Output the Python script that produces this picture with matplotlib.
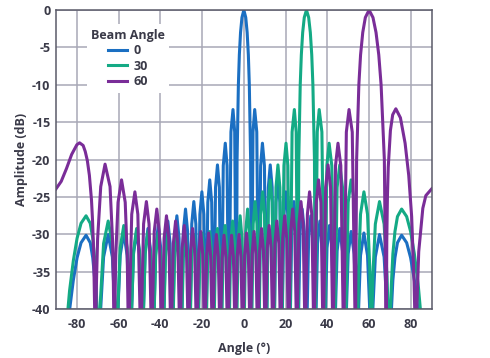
import matplotlib
matplotlib.use("Agg")
import matplotlib.pyplot as plt

# Beam patterns: angle (deg) and amplitude (dB) vertices.
# Nulls go below the axis floor, so they are stored at -45 and get clipped.
angle_0 = [
    -90, -83.5, -81.7, -79.9, -78.0, -75.6, -73.6, -72.4, -71.4, -70.7, -69.64,
    -68.6, -67.2, -65.0, -63.0, -61.8, -61.04,
    -59.25, -57.53, -55.9, -54.34,
    -52.86, -51.38, -49.99, -48.59,
    -47.27, -45.95, -44.69, -43.43,
    -42.22, -41.01, -39.85, -38.68,
    -37.55, -36.42, -35.33, -34.23,
    -33.16, -32.09, -31.05, -30.0,
    -28.98, -27.95, -26.95, -25.94,
    -24.96, -23.97, -23.0, -22.02,
    -21.07, -20.11, -19.16, -18.21,
    -17.27, -16.33, -15.41, -14.48,
    -13.56, -12.64, -11.73, -10.81,
    -9.86, -8.9, -8.04, -7.18,
    -6.19, -5.2, -4.39, -3.58,
    -3.25, -2.62, -2.16, -1.585, -0.91, 0, 0.91, 1.585, 2.16, 2.62, 3.25, 3.58,
    4.39, 5.2, 6.19, 7.18,
    8.04, 8.9, 9.86, 10.81,
    11.73, 12.64, 13.56, 14.48,
    15.41, 16.33, 17.27, 18.21,
    19.16, 20.11, 21.07, 22.02,
    23.0, 23.97, 24.96, 25.94,
    26.95, 27.95, 28.98, 30.0,
    31.05, 32.09, 33.16, 34.23,
    35.33, 36.42, 37.55, 38.68,
    39.85, 41.01, 42.22, 43.43,
    44.69, 45.95, 47.27, 48.59,
    49.99, 51.38, 52.86, 54.34,
    55.9, 57.53, 59.25, 61.04,
    61.8, 63.0, 65.0, 67.2, 68.6, 69.64,
    70.7, 71.4, 72.4, 73.6, 75.6, 78.0, 79.9, 81.7, 83.5, 90,
]
level_0 = [
    -45, -40.1, -36.1, -33.1, -31.1, -30.1, -31.1, -33.1, -36.1, -40.1, -45,
    -40, -33, -30, -33, -40, -45,
    -32.8, -29.8, -32.8, -45,
    -32.6, -29.6, -32.6, -45,
    -32.2, -29.2, -32.2, -45,
    -31.8, -28.8, -31.8, -45,
    -31.2, -28.2, -31.2, -45,
    -30.5, -27.5, -30.5, -45,
    -29.6, -26.6, -29.6, -45,
    -28.6, -25.6, -28.6, -45,
    -27.3, -24.3, -27.3, -45,
    -25.7, -22.7, -25.7, -45,
    -23.7, -20.7, -23.7, -45,
    -20.8, -17.8, -20.8, -45,
    -16.3, -13.3, -16.3, -45,
    -20, -10, -6, -3, -1, 0, -1, -3, -6, -10, -20, -45,
    -16.3, -13.3, -16.3, -45,
    -20.8, -17.8, -20.8, -45,
    -23.7, -20.7, -23.7, -45,
    -25.7, -22.7, -25.7, -45,
    -27.3, -24.3, -27.3, -45,
    -28.6, -25.6, -28.6, -45,
    -29.6, -26.6, -29.6, -45,
    -30.5, -27.5, -30.5, -45,
    -31.2, -28.2, -31.2, -45,
    -31.8, -28.8, -31.8, -45,
    -32.2, -29.2, -32.2, -45,
    -32.6, -29.6, -32.6, -45,
    -32.8, -29.8, -32.8, -45,
    -40, -33, -30, -33, -40, -45,
    -40.1, -36.1, -33.1, -31.1, -30.1, -31.1, -33.1, -36.1, -40.1, -45,
]

angle_30 = [
    -90, -85.4, -83.5, -81.7, -79.9, -78.0, -75.6, -73.6, -72.4, -71.4, -70.7, -69.64,
    -68.6, -67.2, -65.0, -63.0, -61.8, -61.04,
    -59.25, -57.53, -55.9, -54.34,
    -52.86, -51.38, -49.99, -48.59,
    -47.27, -45.95, -44.69, -43.43,
    -42.22, -41.01, -39.85, -38.68,
    -37.55, -36.42, -35.33, -34.23,
    -33.16, -32.09, -31.05, -30.0,
    -28.98, -27.95, -26.95, -25.94,
    -24.96, -23.97, -23.0, -22.02,
    -21.07, -20.11, -19.16, -18.21,
    -17.27, -16.33, -15.41, -14.48,
    -13.56, -12.64, -11.73, -10.81,
    -9.9, -8.99, -8.09, -7.18,
    -6.28, -5.38, -4.48, -3.58,
    -2.69, -1.79, -0.9, 0,
    0.9, 1.79, 2.69, 3.58,
    4.48, 5.38, 6.28, 7.18,
    8.09, 8.99, 9.9, 10.81,
    11.73, 12.64, 13.56, 14.48,
    15.41, 16.33, 17.27, 18.21,
    19.2, 20.2, 21.11, 22.02,
    23.11, 24.2, 25.07, 25.94,
    26.31, 27.01, 27.54, 28.19, 28.95, 30.0, 31.06, 31.85, 32.53, 33.08, 33.83, 34.23,
    35.17, 36.1, 37.39, 38.68,
    39.77, 40.85, 42.14, 43.43,
    44.69, 45.95, 47.27, 48.59,
    49.99, 51.38, 52.86, 54.34,
    54.98, 55.9, 57.53, 59.25, 60.31, 61.04,
    61.8, 63.0, 65.0, 67.2, 68.6, 69.64,
    70.7, 71.4, 72.4, 73.6, 75.6, 78.0, 79.9, 81.7, 83.5, 85.4, 90,
]
level_30 = [
    -45, -43.5, -37.5, -33.5, -30.5, -28.5, -27.5, -28.5, -30.5, -33.5, -37.5, -45,
    -38.2, -31.2, -28.2, -31.2, -38.2, -45,
    -31.8, -28.8, -31.8, -45,
    -32.2, -29.2, -32.2, -45,
    -32.6, -29.6, -32.6, -45,
    -32.8, -29.8, -32.8, -45,
    -33.0, -30.0, -33.0, -45,
    -33.1, -30.1, -33.1, -45,
    -33.1, -30.1, -33.1, -45,
    -33.0, -30.0, -33.0, -45,
    -32.8, -29.8, -32.8, -45,
    -32.6, -29.6, -32.6, -45,
    -32.2, -29.2, -32.2, -45,
    -31.8, -28.8, -31.8, -45,
    -31.2, -28.2, -31.2, -45,
    -30.5, -27.5, -30.5, -45,
    -29.6, -26.6, -29.6, -45,
    -28.6, -25.6, -28.6, -45,
    -27.3, -24.3, -27.3, -45,
    -25.7, -22.7, -25.7, -45,
    -23.7, -20.7, -23.7, -45,
    -20.8, -17.8, -20.8, -45,
    -16.3, -13.3, -16.3, -45,
    -20, -10, -6, -3, -1, 0, -1, -3, -6, -10, -20, -45,
    -16.3, -13.3, -16.3, -45,
    -20.8, -17.8, -20.8, -45,
    -23.7, -20.7, -23.7, -45,
    -25.7, -22.7, -25.7, -45,
    -34.3, -27.3, -24.3, -27.3, -34.3, -45,
    -35.6, -28.6, -25.6, -28.6, -35.6, -45,
    -36.6, -32.6, -29.6, -27.6, -26.6, -27.6, -29.6, -32.6, -36.6, -42.6, -45,
]

angle_60 = [
    -90, -87.5, -85.0, -82.5, -80.0, -78.7, -77.0, -76.0, -75.0, -74.0, -73.0, -72.5, -72.0, -71.6, -71.16,
    -70.63, -70.07, -68.57, -66.5, -64.11, -62.93, -62.51, -62.13,
    -61.35, -60.28, -58.6, -56.84, -55.89, -55.24,
    -53.72, -52.2, -50.79, -49.38,
    -48.04, -46.7, -45.43, -44.15,
    -42.93, -41.7, -40.53, -39.35,
    -38.21, -37.07, -35.97, -34.86,
    -33.78, -32.7, -31.65, -30.6,
    -29.57, -28.54, -27.53, -26.52,
    -25.53, -24.54, -23.56, -22.58,
    -21.62, -20.66, -19.71, -18.75,
    -17.81, -16.87, -15.94, -15.01,
    -14.09, -13.16, -12.25, -11.33,
    -10.42, -9.51, -8.61, -7.7,
    -6.8, -5.9, -5.0, -4.1,
    -3.21, -2.31, -1.42, -0.52,
    0.38, 1.27, 2.17, 3.07,
    3.97, 4.86, 5.76, 6.66,
    7.57, 8.47, 9.38, 10.28,
    11.2, 12.11, 13.03, 13.95,
    14.88, 15.8, 16.74, 17.67,
    18.62, 19.56, 20.52, 21.47,
    22.44, 23.41, 24.39, 25.37,
    26.37, 27.37, 28.39, 29.41,
    30.45, 31.48, 32.55, 33.61,
    34.7, 35.79, 36.91, 38.02,
    39.18, 40.34, 41.54, 42.73,
    43.92, 45.1, 46.46, 47.82,
    49.11, 50.4, 51.94, 53.47,
    54.03, 55.1, 55.92, 56.97, 58.21, 60.0, 61.87, 63.33, 64.65, 65.76, 67.32, 68.2,
    68.49, 68.79, 69.19, 70.22, 71.31, 72.82, 75.02, 77.26, 79.0, 80.4, 81.55, 82.3,
    82.86, 83.79, 85.75, 87.2, 90,
]
level_60 = [
    -23.9, -22.9, -21.2, -19.3, -18.0, -17.75, -18.1, -18.9, -20.1, -22.1, -25.4, -28.1, -32.0, -38.0, -45,
    -36.6, -30.6, -23.6, -20.6, -23.6, -30.6, -36.6, -45,
    -32.7, -25.7, -22.7, -25.7, -32.7, -45,
    -27.3, -24.3, -27.3, -45,
    -28.6, -25.6, -28.6, -45,
    -29.6, -26.6, -29.6, -45,
    -30.5, -27.5, -30.5, -45,
    -31.2, -28.2, -31.2, -45,
    -31.8, -28.8, -31.8, -45,
    -32.2, -29.2, -32.2, -45,
    -32.6, -29.6, -32.6, -45,
    -32.8, -29.8, -32.8, -45,
    -33.0, -30.0, -33.0, -45,
    -33.1, -30.1, -33.1, -45,
    -33.1, -30.1, -33.1, -45,
    -33.0, -30.0, -33.0, -45,
    -32.8, -29.8, -32.8, -45,
    -32.6, -29.6, -32.6, -45,
    -32.2, -29.2, -32.2, -45,
    -31.8, -28.8, -31.8, -45,
    -31.2, -28.2, -31.2, -45,
    -30.5, -27.5, -30.5, -45,
    -29.6, -26.6, -29.6, -45,
    -28.6, -25.6, -28.6, -45,
    -27.3, -24.3, -27.3, -45,
    -25.7, -22.7, -25.7, -45,
    -23.7, -20.7, -23.7, -45,
    -20.8, -17.8, -20.8, -45,
    -16.3, -13.3, -16.3, -45,
    -20, -10, -6, -3, -1, 0, -1, -3, -6, -10, -20, -45,
    -30.7, -25.0, -21.0, -16.1, -14.0, -13.2, -14.4, -17.8, -22.1, -27.6, -36.3, -45,
    -40.0, -32.3, -26.5, -24.8, -23.9,
]

beam_labels = ["0", "30", "60"]
x_ticks = [-80, -60, -40, -20, 0, 20, 40, 60, 80]
y_ticks = [0, -5, -10, -15, -20, -25, -30, -35, -40]

colors = ["#1b6fc2", "#14aa85", "#7a2d98"]
text_color = "#3a3a48"

plt.rcParams["font.family"] = ["Open Sans", "DejaVu Sans"]
plt.rcParams["axes.unicode_minus"] = False

fig = plt.figure(figsize=(4.9, 3.58), dpi=100)
ax = fig.add_axes([0.1143, 0.136, 0.7667, 0.836])

series = [(angle_0, level_0), (angle_30, level_30), (angle_60, level_60)]
for (xs, ys), lab, c in zip(series, beam_labels, colors):
    ax.plot(xs, ys, color=c, lw=2.2, label=lab, solid_joinstyle="round")

ax.set_xlim(-90, 90)
ax.set_ylim(-40, 0)
ax.set_xticks(x_ticks)
ax.set_yticks(y_ticks)
ax.grid(True, color="#a8a8b6", lw=1.1)
ax.set_axisbelow(True)
ax.tick_params(length=0, labelsize=9, labelcolor=text_color)
ax.tick_params(axis="y", pad=4)
ax.tick_params(axis="x", pad=6)
for lbl in ax.get_xticklabels() + ax.get_yticklabels():
    lbl.set_fontweight("bold")
for sp in ax.spines.values():
    sp.set_color("#5a5a68")
    sp.set_linewidth(1.1)

ax.set_xlabel("Angle (°)", fontsize=9, fontweight="bold", color=text_color, labelpad=8)
ax.set_ylabel("Amplitude (dB)", fontsize=9, fontweight="bold", color=text_color, labelpad=3)

leg = ax.legend(title="Beam Angle", loc="upper left", bbox_to_anchor=(0.075, 0.96),
                frameon=True, fancybox=False, edgecolor="none", facecolor="white",
                framealpha=1, fontsize=9, handlelength=1.5, handletextpad=0.55,
                borderpad=0.35, labelspacing=0.2, borderaxespad=0.2)
leg.get_title().set_fontweight("bold")
leg.get_title().set_fontsize(9)
leg.get_title().set_color(text_color)
for t in leg.get_texts():
    t.set_fontweight("bold")
    t.set_color(text_color)

fig.savefig("out.png", dpi=100)
